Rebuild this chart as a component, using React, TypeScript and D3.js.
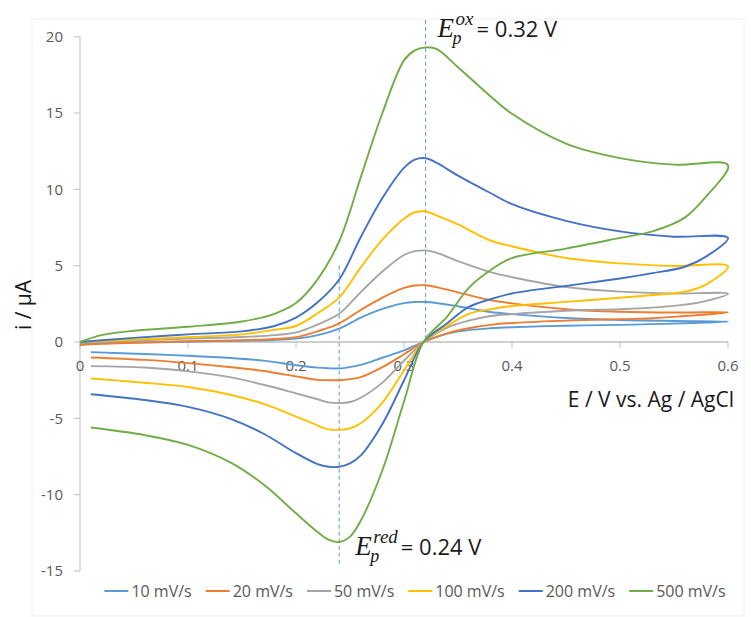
import React from "react";
import * as d3 from "d3";

// Potential grids (V) for the anodic (forward) and cathodic (reverse) sweeps
const E_FWD = [0, 0.02, 0.05, 0.1, 0.15, 0.18, 0.2, 0.22, 0.24, 0.26, 0.28, 0.3, 0.31, 0.32, 0.33, 0.35, 0.38, 0.4, 0.45, 0.5, 0.55, 0.6];
const E_REV = [0.6, 0.58, 0.56, 0.53, 0.5, 0.45, 0.4, 0.38, 0.36, 0.34, 0.318, 0.3, 0.28, 0.26, 0.25, 0.24, 0.23, 0.22, 0.2, 0.17, 0.14, 0.1, 0.06, 0.01];

// Scan-rate labels
const SCAN_RATES = ["10 mV/s", "20 mV/s", "50 mV/s", "100 mV/s", "200 mV/s", "500 mV/s"];

// Current (µA) on the forward sweep, one array per scan rate
const I_FWD_10 = [-0.1, -0.07, -0.03, 0.02, 0.08, 0.13, 0.22, 0.45, 0.88, 1.6, 2.17, 2.55, 2.62, 2.62, 2.56, 2.34, 1.97, 1.83, 1.57, 1.44, 1.38, 1.34];
const I_FWD_20 = [-0.2, -0.12, -0.05, 0.05, 0.12, 0.2, 0.32, 0.7, 1.22, 2.1, 2.91, 3.55, 3.7, 3.72, 3.6, 3.25, 2.74, 2.53, 2.15, 1.98, 1.93, 1.95];
const I_FWD_50 = [-0.05, 0.02, 0.1, 0.22, 0.33, 0.45, 0.63, 1.15, 1.85, 3.27, 4.62, 5.7, 5.95, 6.0, 5.85, 5.3, 4.58, 4.25, 3.6, 3.3, 3.18, 3.16];
const I_FWD_100 = [0, 0.06, 0.15, 0.32, 0.5, 0.8, 1.05, 1.88, 2.92, 4.89, 6.71, 8.07, 8.5, 8.55, 8.3, 7.7, 6.65, 6.27, 5.5, 5.15, 4.98, 4.96];
const I_FWD_200 = [0, 0.12, 0.27, 0.5, 0.7, 1.05, 1.6, 2.6, 4.1, 6.88, 9.43, 11.41, 11.95, 12.04, 11.75, 10.9, 9.76, 9.03, 7.94, 7.25, 6.9, 6.82];
const I_FWD_500 = [0, 0.45, 0.74, 1.0, 1.34, 1.85, 2.55, 4.1, 6.6, 10.8, 15.0, 18.45, 19.1, 19.3, 19.2, 18.0, 16.1, 14.95, 13.0, 12.05, 11.62, 11.58];

// Current (µA) on the reverse sweep, one array per scan rate
const I_REV_10 = [1.34, 1.28, 1.23, 1.17, 1.12, 1.07, 0.97, 0.9, 0.78, 0.55, 0, -0.55, -1.03, -1.5, -1.64, -1.73, -1.72, -1.68, -1.52, -1.22, -1.05, -0.9, -0.79, -0.66];
const I_REV_20 = [1.95, 1.8, 1.7, 1.56, 1.5, 1.4, 1.25, 1.12, 0.9, 0.57, 0, -0.8, -1.65, -2.3, -2.43, -2.5, -2.5, -2.48, -2.25, -1.9, -1.65, -1.38, -1.17, -1.01];
const I_REV_50 = [3.16, 2.7, 2.45, 2.25, 2.15, 2.05, 1.83, 1.7, 1.4, 0.95, 0, -1.23, -2.66, -3.65, -3.93, -4.0, -3.95, -3.75, -3.36, -2.8, -2.32, -1.92, -1.67, -1.58];
const I_REV_100 = [4.96, 3.78, 3.29, 3.08, 2.9, 2.63, 2.36, 2.15, 1.85, 1.06, 0, -1.87, -3.97, -5.32, -5.66, -5.75, -5.72, -5.47, -4.88, -4.05, -3.47, -2.95, -2.67, -2.39];
const I_REV_200 = [6.82, 5.61, 4.93, 4.51, 4.16, 3.68, 3.18, 2.8, 2.3, 1.23, 0, -2.52, -5.37, -7.43, -7.95, -8.17, -8.17, -8.0, -7.28, -6.01, -5.05, -4.25, -3.8, -3.42];
const I_REV_500 = [11.58, 9.55, 8.15, 7.25, 6.82, 6.12, 5.5, 4.7, 3.55, 1.67, 0, -3.9, -8.4, -11.7, -12.75, -13.1, -12.95, -12.45, -11.22, -9.34, -7.92, -6.74, -6.1, -5.6];

const I_FWD = [I_FWD_10, I_FWD_20, I_FWD_50, I_FWD_100, I_FWD_200, I_FWD_500];
const I_REV = [I_REV_10, I_REV_20, I_REV_50, I_REV_100, I_REV_200, I_REV_500];

const COLORS = ["#5B9BD5", "#ED7D31", "#A5A5A5", "#FFC000", "#4472C4", "#70AD47"];

const X_TICKS = [0, 0.1, 0.2, 0.3, 0.4, 0.5, 0.6];
const Y_TICKS = [-15, -10, -5, 0, 5, 10, 15, 20];

// Peak potentials (V) marked with dashed guides
const E_PEAK_OX = 0.32;
const E_PEAK_RED = 0.24;

const W = 751;
const H = 617;
const SANS = "'Open Sans', sans-serif";
const SERIF = "'Liberation Serif', 'DejaVu Serif', serif";

function measure(text: string, font: string): number {
  const c = document.createElement("canvas").getContext("2d");
  if (!c) return text.length * 8;
  c.font = font;
  return c.measureText(text).width;
}

// E with a subscript p and a superscript label, followed by "= value V"
function PeakLabel({ x0, base, sup, value }: { x0: number; base: number; sup: string; value: number }) {
  const supSize = 19;
  const supW = measure(sup, `italic ${supSize}px ${SERIF}`);
  const supX = x0 + 18;
  const eqX = supX + Math.max(supW, 10) + 3;
  return (
    <g fill="#1a1a1a">
      <text x={x0} y={base} fontFamily={SERIF} fontStyle="italic" fontSize={27}>
        E
      </text>
      <text x={x0 + 15} y={base + 7} fontFamily={SERIF} fontStyle="italic" fontSize={18}>
        p
      </text>
      <text x={supX} y={base - 12} fontFamily={SERIF} fontStyle="italic" fontSize={supSize}>
        {sup}
      </text>
      <text x={eqX} y={base} fontFamily={SANS} fontSize={22}>
        {`= ${value.toFixed(2)} V`}
      </text>
    </g>
  );
}

export default function App() {
  const x = d3.scaleLinear().domain([0, 0.6]).range([80, 728]);
  const y = d3.scaleLinear().domain([-15, 20]).range([571, 36.7]);

  const line = d3
    .line<[number, number]>()
    .x((d) => x(d[0]))
    .y((d) => y(d[1]))
    .curve(d3.curveCatmullRom.alpha(0.5));

  const series = SCAN_RATES.map((name, k) => {
    const pts: [number, number][] = [
      ...E_FWD.map((e, j) => [e, I_FWD[k][j]] as [number, number]),
      ...E_REV.slice(1).map((e, j) => [e, I_REV[k][j + 1]] as [number, number]),
    ];
    return { name, color: COLORS[k], d: line(pts) || "" };
  });

  // Legend layout
  const legendSize = 16;
  const legendFont = `${legendSize}px ${SANS}`;
  const swatch = 24;
  const gapText = 3;
  const gapItem = 14;
  const widths = SCAN_RATES.map((s) => swatch + gapText + measure(s, legendFont));
  const total = d3.sum(widths) + gapItem * (widths.length - 1);
  let cursor = 415 - total / 2;
  const legendItems = SCAN_RATES.map((s, k) => {
    const item = { name: s, color: COLORS[k], x: cursor };
    cursor += widths[k] + gapItem;
    return item;
  });
  const legendY = 591;

  const axisColor = "#BFBFBF";
  const tickColor = "#595959";

  return (
    <svg
      width={W}
      height={H}
      style={{ position: "absolute", left: 0, top: 0, background: "#fff" }}
    >
      <rect x={32} y={19} width={712} height={597} fill="#fff" stroke="#F0F0F0" strokeWidth={1} />

      {/* y axis */}
      <line x1={x(0)} x2={x(0)} y1={y(20)} y2={y(-15)} stroke={axisColor} strokeWidth={1} />
      {Y_TICKS.map((t) => (
        <g key={`yt${t}`}>
          <line x1={x(0) - 6} x2={x(0)} y1={y(t)} y2={y(t)} stroke={axisColor} />
          <text
            x={63}
            y={y(t)}
            dy="0.35em"
            textAnchor="end"
            fontFamily={SANS}
            fontSize={15}
            fill={tickColor}
          >
            {t}
          </text>
        </g>
      ))}

      {/* x axis crossing at i = 0 */}
      <line x1={x(0)} x2={x(0.6)} y1={y(0)} y2={y(0)} stroke={axisColor} strokeWidth={1.5} />
      {X_TICKS.map((t) => (
        <g key={`xt${t}`}>
          <line x1={x(t)} x2={x(t)} y1={y(0)} y2={y(0) + 6} stroke={axisColor} />
          <text
            x={x(t)}
            y={y(0) + 29}
            textAnchor="middle"
            fontFamily={SANS}
            fontSize={15}
            fill={tickColor}
          >
            {String(t)}
          </text>
        </g>
      ))}

      {/* axis titles */}
      <text x={734} y={407} textAnchor="end" fontFamily={SANS} fontSize={21} fill="#1a1a1a">
        E / V vs. Ag / AgCl
      </text>
      <text
        transform={`translate(31,305) rotate(-90)`}
        textAnchor="middle"
        fontFamily={SANS}
        fontSize={21}
        fill="#1a1a1a"
      >
        i / μA
      </text>

      {/* peak potential guides */}
      <line
        x1={x(E_PEAK_OX)}
        x2={x(E_PEAK_OX)}
        y1={y(21.1)}
        y2={y(0)}
        stroke="#5B9BD5"
        strokeWidth={1}
        strokeDasharray="4 3"
      />
      <line
        x1={x(E_PEAK_RED)}
        x2={x(E_PEAK_RED)}
        y1={y(5)}
        y2={y(-14.6)}
        stroke="#5B9BD5"
        strokeWidth={1}
        strokeDasharray="4 3"
      />

      {/* voltammograms */}
      {series.map((s) => (
        <path key={s.name} d={s.d} fill="none" stroke={s.color} strokeWidth={1.9} strokeLinejoin="round" />
      ))}

      {/* peak annotations */}
      <PeakLabel x0={x(E_PEAK_OX) + 12} base={37} sup="ox" value={E_PEAK_OX} />
      <PeakLabel x0={x(E_PEAK_RED) + 16} base={555} sup="red" value={E_PEAK_RED} />

      {/* legend */}
      {legendItems.map((it) => (
        <g key={it.name}>
          <line
            x1={it.x}
            x2={it.x + swatch}
            y1={legendY}
            y2={legendY}
            stroke={it.color}
            strokeWidth={2}
          />
          <text
            x={it.x + swatch + gapText}
            y={legendY}
            dy="0.35em"
            fontFamily={SANS}
            fontSize={legendSize}
            fill={tickColor}
          >
            {it.name}
          </text>
        </g>
      ))}
    </svg>
  );
}
